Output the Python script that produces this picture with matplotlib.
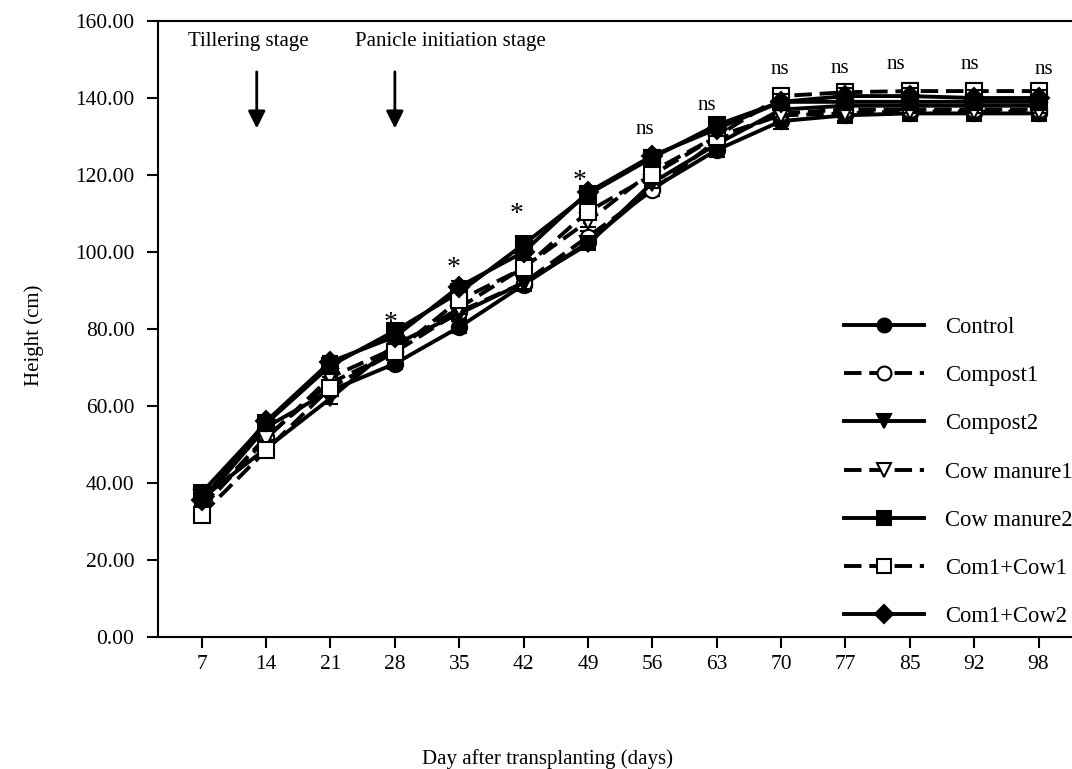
import matplotlib
matplotlib.use('Agg')
import matplotlib.pyplot as plt
from matplotlib.lines import Line2D
import numpy as np

plt.rcParams.update({'font.family': 'Liberation Serif', 'font.size': 15})

days = ['7', '14', '21', '28', '35', '42', '49', '56', '63', '70', '77', '85', '92', '98']
control = [35.0, 54.5, 64.0, 71.0, 80.5, 91.5, 102.5, 116.5, 126.5, 134.0, 135.5, 136.0, 136.0, 136.0]
compost1 = [34.0, 52.0, 66.0, 74.0, 84.5, 92.0, 104.0, 116.0, 129.0, 136.0, 137.0, 137.0, 137.0, 137.0]
compost2 = [36.0, 49.0, 62.0, 76.0, 84.0, 92.0, 102.0, 118.0, 128.0, 137.0, 138.0, 138.0, 138.0, 138.0]
cow1 = [33.5, 51.5, 67.5, 75.0, 85.5, 96.0, 108.0, 121.0, 130.0, 135.5, 136.0, 136.5, 136.5, 136.5]
cow2 = [37.5, 55.5, 70.5, 79.5, 89.5, 102.0, 115.0, 124.5, 133.0, 139.0, 139.0, 139.0, 139.0, 139.0]
com1cow1 = [31.8, 48.5, 64.8, 74.0, 87.5, 95.8, 110.5, 120.0, 130.0, 140.5, 141.5, 141.8, 141.8, 141.8]
com1cow2 = [35.5, 56.0, 71.5, 78.0, 91.0, 100.0, 115.5, 125.0, 132.0, 139.0, 140.5, 140.5, 140.0, 140.0]
err = [1.5, 1.5, 1.5, 1.5, 1.5, 1.5, 1.5, 1.5, 1.8, 2.0, 2.0, 2.0, 2.0, 2.0]

sig_x = [2.93, 3.91, 4.89, 5.87, 6.88, 7.84, 8.98, 9.91, 10.79, 11.93, 13.08]
sig_y = [81.5, 95.8, 109.7, 118.3, 131.7, 138.0, 147.3, 147.7, 148.6, 148.6, 147.3]
sig_txt = ['*', '*', '*', '*', 'ns', 'ns', 'ns', 'ns', 'ns', 'ns', 'ns']

fig = plt.figure(figsize=(10.72, 7.69), dpi=100)
ax = fig.add_axes([158 / 1072, 132 / 769, 932 / 1072, 616 / 769])
x = np.arange(len(days))

dash = (0, (4.5, 2))
series = [
    ('Control', control, 'o', 'black', '-'),
    ('Compost1', compost1, 'o', 'white', dash),
    ('Compost2', compost2, 'v', 'black', '-'),
    ('Cow manure1', cow1, 'v', 'white', dash),
    ('Cow manure2', cow2, 's', 'black', '-'),
    ('Com1+Cow1', com1cow1, 's', 'white', dash),
    ('Com1+Cow2', com1cow2, 'D', 'black', '-'),
]

handles = []
for name, vals, mk, fc, ls in series:
    ms = 10 if mk == 'D' else 11
    ax.errorbar(x, vals, yerr=err, fmt='none', ecolor='black', elinewidth=1.5,
                capsize=6, capthick=1.5)
    ax.plot(x, vals, color='black', lw=2.8, ls=ls, marker=mk, ms=ms,
            mfc=fc, mec='black', mew=1.5)
    handles.append(Line2D([], [], color='black', lw=2.8, ls=ls, marker=mk,
                          ms=ms - 1, mfc=fc, mec='black', mew=1.5, label=name))

for sx, sy, st in zip(sig_x, sig_y, sig_txt):
    ax.text(sx, sy, st, ha='center', va='center',
            fontsize=20 if st == '*' else 15)

# stage arrows
ax.text(0.73, 154.8, 'Tillering stage', ha='center', va='center', fontsize=15)
ax.text(3.86, 154.8, 'Panicle initiation stage', ha='center', va='center', fontsize=15)
for ax_x in [0.854, 3.0]:
    ax.annotate('', xy=(ax_x, 132.1), xytext=(ax_x, 146.8),
                arrowprops=dict(arrowstyle='-|>', lw=2, color='black',
                                mutation_scale=26, shrinkA=0, shrinkB=0))

ax.set_xlim(-0.68, 13.8)
ax.set_ylim(0, 160)
ax.set_xticks(x)
ax.set_xticklabels(days)
ax.set_yticks(np.arange(0, 161, 20))
ax.set_yticklabels([f'{v:.2f}' for v in np.arange(0, 161, 20)])
ax.tick_params(axis='both', direction='out', length=8, width=1.5, labelsize=15.5)
ax.tick_params(axis='x', pad=5)
ax.tick_params(axis='y', pad=9)
for sp in ax.spines.values():
    sp.set_linewidth(1.5)

fig.text(547 / 1072, 1 - 759 / 769, 'Day after transplanting (days)',
         ha='center', va='center', fontsize=15)
fig.text(34 / 1072, 1 - 335 / 769, 'Height (cm)', rotation=90,
         ha='center', va='center', fontsize=15)

ax.legend(handles=handles, loc='upper left', bbox_to_anchor=(844 / 1072, 1 - 317 / 769),
          bbox_transform=fig.transFigure, frameon=False, fontsize=16.3,
          handlelength=3.55, handletextpad=0.93, labelspacing=1.2,
          borderpad=0, borderaxespad=0)

fig.savefig('out.png', dpi=100)
